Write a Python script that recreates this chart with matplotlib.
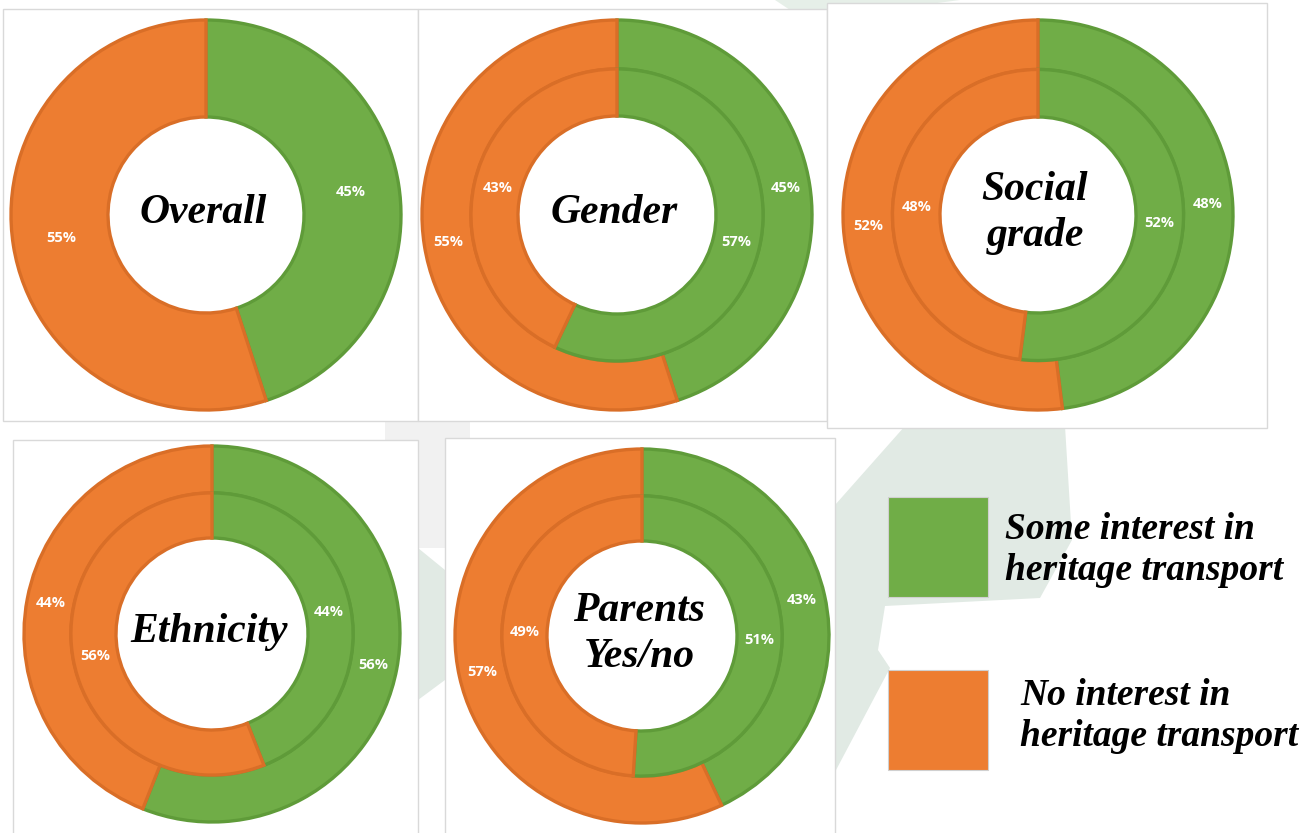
import matplotlib
matplotlib.use("Agg")
import matplotlib.pyplot as plt
from matplotlib.patches import Rectangle, Polygon

# ---------------- data ----------------
legend_labels = ["Some interest in\nheritage transport", "No interest in\nheritage transport"]
panel_titles = ["Overall", "Gender", "Social\ngrade", "Ethnicity", "Parents\nYes/no"]
outer_interest = [45, 45, 48, 56, 43]
outer_no_interest = [55, 55, 52, 44, 57]
inner_interest = [None, 57, 52, 44, 51]
inner_no_interest = [None, 43, 48, 56, 49]

# ---------------- style / layout ----------------
W, H = 1308, 833
GREEN, ORANGE = "#70AD47", "#ED7D31"
GREEN_EDGE, ORANGE_EDGE = "#5F9B39", "#D96E27"
WATERMARK = "#E1EAE4"
SCRIPT_FONT = dict(family=["Liberation Serif", "DejaVu Serif"], style="italic", weight="bold")
PCT_FONT = dict(family=["Open Sans", "DejaVu Sans"], weight="bold", size=10.5, color="white")

boxes = [(3, 9, 418, 421), (418, 9, 827, 421), (827, 3, 1267, 428),
         (13, 440, 418, 840), (445, 438, 835, 840)]
centers = [(206, 215), (617, 215), (1038, 215), (212, 634), (642, 636)]
outer_r = [195, 195, 195, 188, 187]
hole_r = [98, 99, 98, 96, 95]
title_size = [30, 30, 30, 30, 30]

fig = plt.figure(figsize=(W / 100, H / 100), dpi=100)
ax = fig.add_axes([0, 0, 1, 1])


def Y(y):
    return H - y


def poly(pts, color, z=0.1):
    ax.add_patch(Polygon([(x, Y(y)) for x, y in pts], closed=True, fc=color,
                         ec="none", zorder=z))


# background watermark shapes
poly([(905, 426), (1065, 426), (1072, 540), (1040, 598), (885, 606), (878, 650),
      (890, 668), (835, 772), (835, 505)], WATERMARK)
poly([(775, 0), (960, 0), (930, 4), (830, 10), (790, 10)], "#E6EFE8")
poly([(385, 421), (470, 421), (470, 438), (445, 438), (445, 548), (418, 548),
      (418, 440), (385, 440)], "#F1F1F1")
poly([(418, 548), (445, 570), (445, 680), (418, 700)], WATERMARK)

# panel boxes
for (x0, y0, x1, y1) in boxes:
    ax.add_patch(Rectangle((x0, Y(y1)), x1 - x0, y1 - y0, fc="white", ec="#D9D9D9",
                           lw=1.0, zorder=0.5))


def pct_fmt(p):
    return f"{p:.0f}%"


for i in range(len(panel_titles)):
    cx, cy = centers[i]
    R, Rh = outer_r[i], hole_r[i]
    if inner_interest[i] is None:
        rings = [([outer_interest[i], outer_no_interest[i]], R, R - Rh, (R + Rh) / 2 / R)]
    else:
        Rm = Rh + 0.49 * (R - Rh)
        rings = [([outer_interest[i], outer_no_interest[i]], R, R - Rm, (R + Rm) / 2 / R),
                 ([inner_interest[i], inner_no_interest[i]], Rm, Rm - Rh, (Rm + Rh) / 2 / Rm)]
    for vals, rad, width, pdist in rings:
        wedges, texts, autotexts = ax.pie(
            vals, colors=[GREEN, ORANGE], startangle=90, counterclock=False,
            radius=rad, center=(cx, Y(cy)), frame=True,
            wedgeprops=dict(width=width, linewidth=2.4),
            autopct=pct_fmt, pctdistance=pdist, textprops=PCT_FONT)
        wedges[0].set_edgecolor(GREEN_EDGE)
        wedges[1].set_edgecolor(ORANGE_EDGE)
        for w in wedges:
            w.set_zorder(2)
        for t in autotexts:
            t.set_zorder(3)
    ax.text(cx - 3, Y(cy - 2), panel_titles[i], ha="center", va="center",
            fontsize=title_size[i], color="black", linespacing=1.25, zorder=4,
            **SCRIPT_FONT)

# legend
legend_squares = [(888, 497), (888, 670)]
legend_text_pos = [(1005, 550), (1020, 716)]
for (sx, sy), (tx, ty), col, lab in zip(legend_squares, legend_text_pos,
                                        [GREEN, ORANGE], legend_labels):
    ax.add_patch(Rectangle((sx, Y(sy + 100)), 100, 100, fc=col, ec="#D0D0D0",
                           lw=0.8, zorder=2))
    ax.text(tx, Y(ty), lab, ha="left", va="center", fontsize=27, color="black",
            linespacing=1.2, zorder=4, **SCRIPT_FONT)

ax.set_xlim(0, W)
ax.set_ylim(0, H)
ax.set_aspect("equal", adjustable="box")
ax.axis("off")
fig.savefig("out.png", dpi=100, facecolor="white")
